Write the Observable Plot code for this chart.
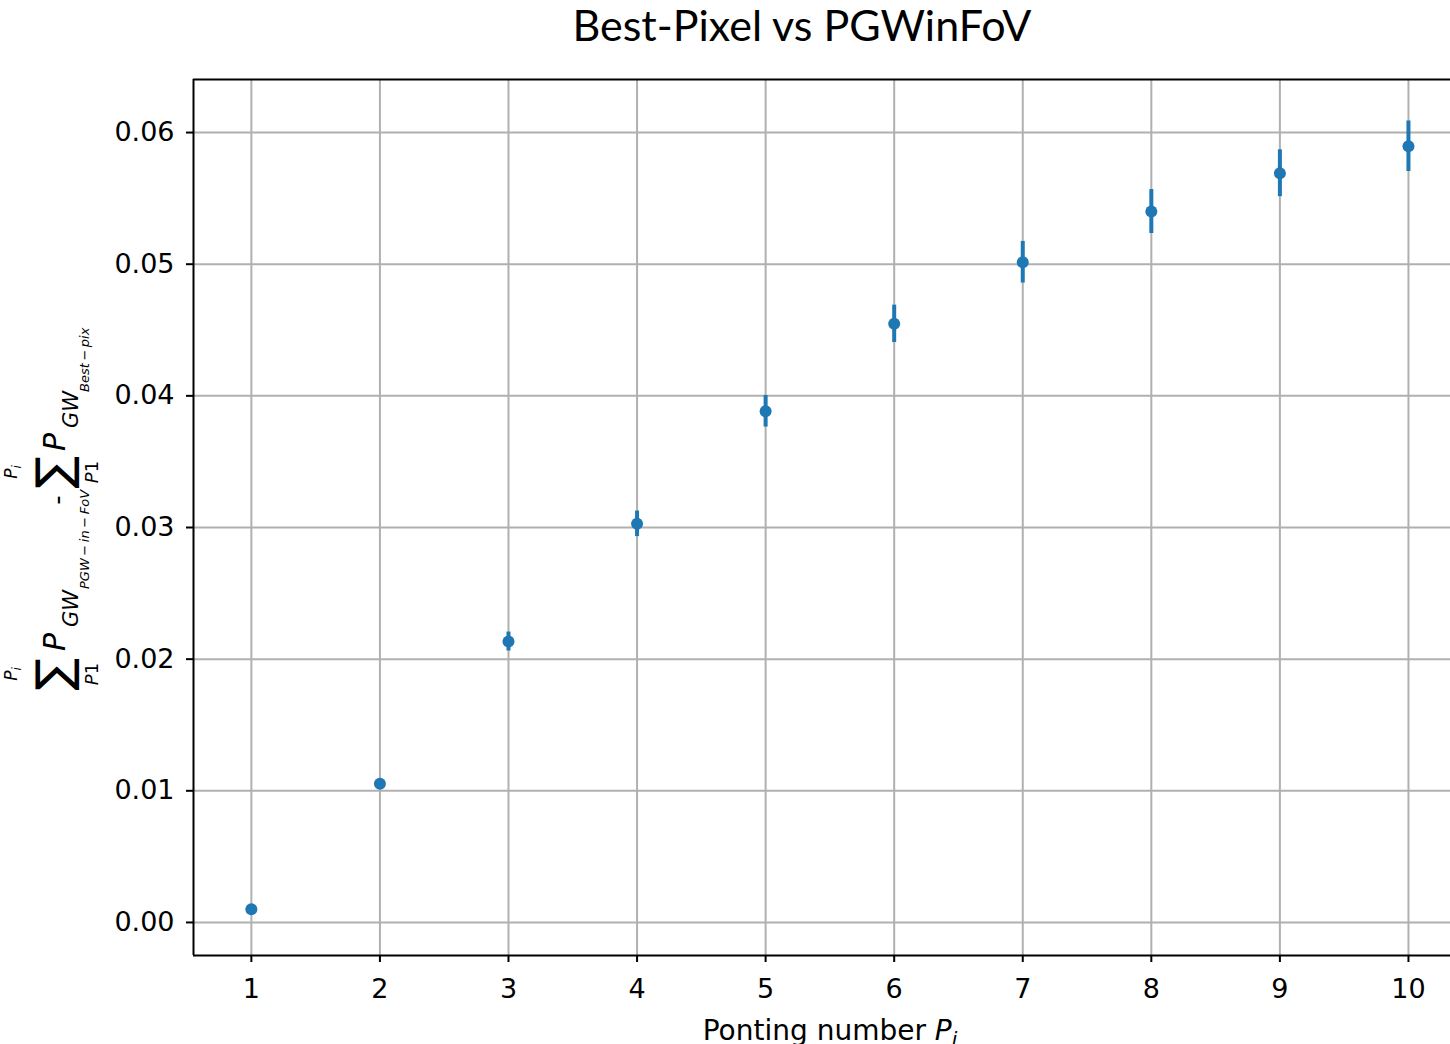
<!DOCTYPE html>
<html><head><meta charset="utf-8">
<script src="https://cdn.jsdelivr.net/npm/d3@7"></script>
<script src="https://cdn.jsdelivr.net/npm/@observablehq/plot@0.6"></script>
<style>
body{margin:0;background:#fff;}
#title{position:relative;height:55px;width:1450px;font-family:Lato,"Open Sans",sans-serif;font-size:43px;line-height:43px;color:#000;}
#title span{position:absolute;left:802px;top:3px;transform:translateX(-50%);white-space:nowrap;}
</style></head>
<body>
<div id="title"><span>Best-Pixel vs PGWinFoV</span></div>
<div id="chart"></div>
<script>
const points = [1, 2, 3, 4, 5, 6, 7, 8, 9, 10];
const values = [0.0010, 0.01053, 0.02134, 0.03028, 0.03883, 0.04547, 0.05015, 0.05400, 0.05691, 0.05896];
const errors = [0.0001, 0.0003, 0.00072, 0.00097, 0.0012, 0.00142, 0.00158, 0.00167, 0.00178, 0.00192];
const xTicks = [1, 2, 3, 4, 5, 6, 7, 8, 9, 10];
const yTicks = [0, 0.01, 0.02, 0.03, 0.04, 0.05, 0.06];

const data = points.map((p, i) => ({p, v: values[i], e: errors[i]}));
const xDomain = [0.55, 10.327];
const yDomain = [-0.00251, 0.06403];
const blue = "#1f77b4";
const TOP = 55;

const chart = Plot.plot({
  width: 1450, height: 989,
  marginTop: 24, marginBottom: 89, marginLeft: 193, marginRight: 0,
  style: {fontFamily: "DejaVu Sans", fontSize: "27px", color: "#000", background: "#fff"},
  x: {domain: xDomain},
  y: {domain: yDomain},
  marks: [
    Plot.gridX(xTicks, {stroke: "#b0b0b0", strokeOpacity: 1, strokeWidth: 2}),
    Plot.gridY(yTicks, {stroke: "#b0b0b0", strokeOpacity: 1, strokeWidth: 2}),
    Plot.ruleX(data, {x: "p", y1: d => d.v - d.e, y2: d => d.v + d.e, stroke: blue, strokeWidth: 4}),
    Plot.dot(data, {x: "p", y: "v", r: 6, fill: blue, stroke: null}),
    Plot.ruleX([xDomain[0]], {stroke: "#000", strokeWidth: 2}),
    Plot.ruleY([yDomain[0], yDomain[1]], {stroke: "#000", strokeWidth: 2}),
    Plot.axisX(xTicks, {tickSize: 7, tickPadding: 16, strokeWidth: 2, tickFormat: "d", label: null, fontSize: 27}),
    Plot.axisY(yTicks, {tickSize: 7, tickPadding: 12, strokeWidth: 2, tickFormat: ".2f", label: null, fontSize: 27})
  ]
});
document.getElementById("chart").appendChild(chart);

const svg = d3.select(chart);
// x label
const xl = svg.append("text").attr("x", 830).attr("y", 1040 - TOP)
  .attr("text-anchor", "middle").attr("font-family", "DejaVu Sans").attr("font-size", 28).attr("fill", "#000");
xl.append("tspan").text("Ponting number ");
xl.append("tspan").attr("font-style", "italic").text("P");
xl.append("tspan").attr("font-style", "italic").attr("font-size", 20).attr("dy", 6).text("i");

// y label (rotated math expression)
const g = svg.append("g").attr("transform", "rotate(-90)")
  .attr("font-family", "DejaVu Sans").attr("fill", "#000");
function piece(str, cy, bx, size, italic, anchor, len) {
  const t = g.append("text").attr("x", -(cy - TOP)).attr("y", bx)
    .attr("font-size", size).attr("font-style", italic ? "italic" : "normal")
    .attr("text-anchor", anchor || "middle").text(str);
  if (len) t.attr("textLength", len).attr("lengthAdjust", "spacing");
  return t;
}
function sumBlock(cy) {
  piece("\u2211", cy, 70, 48, false);
  const lo = piece("", cy, 98, 18, false);
  lo.append("tspan").attr("font-style", "italic").text("P");
  lo.append("tspan").text("1");
  const hi = piece("", cy, 17, 17, false);
  hi.append("tspan").attr("font-style", "italic").text("P");
  hi.append("tspan").attr("font-style", "italic").attr("font-size", 12).attr("dy", 4).text("i");
}
sumBlock(674);
piece("P", 651, 65, 30, true, "start");
piece("GW", 627, 78, 21, true, "start");
piece("PGW\u2009\u2212\u2009in\u2009\u2212\u2009FoV", 589, 89, 13, true, "start");
piece("-", 500, 66, 26, false);
sumBlock(472);
piece("P", 451, 65, 30, true, "start");
piece("GW", 428, 78, 21, true, "start");
piece("Best\u2009\u2212\u2009pix", 392, 89, 13, true, "start");
</script>
</body></html>
